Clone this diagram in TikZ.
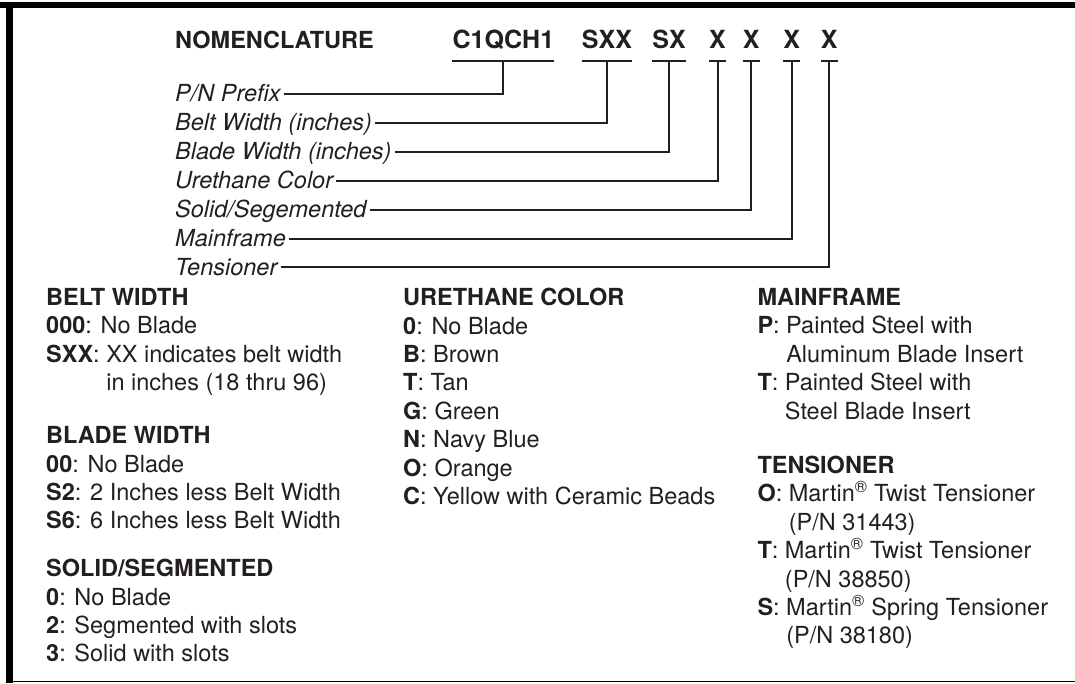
\documentclass[tikz,border=0pt]{standalone}
\usepackage{fontspec}
\setmainfont{TeX Gyre Heros}
\usepackage{tikz}
\usetikzlibrary{positioning}
\definecolor{inkGray}{RGB}{35,31,32}
\newcommand{\regmark}{\textsuperscript{\textregistered}}

\begin{document}
\begin{tikzpicture}[x=1pt, y=-1pt,
		% code letters of the part number
		codePart/.style={
			inner sep=0pt,
			anchor=base,
			font=\fontsize{25}{30}\selectfont\bfseries,
			text=inkGray
		},
		% italic field names on the left
		fieldLabel/.style={
			inner sep=3pt,
			anchor=base west,
			font=\fontsize{23.5}{28}\selectfont\itshape,
			text=inkGray
		},
		% legend columns at the bottom
		legendBlock/.style={
			inner sep=0pt,
			anchor=north west,
			align=left,
			font=\fontsize{23.5}{28.4}\selectfont,
			text=inkGray
		},
		leader/.style={draw=inkGray, line width=2pt}
		]
		
		\useasboundingbox (0,0) rectangle (1075,683);
		
		% frame: heavy top and left, thin bottom
		\fill[black] (0,2) rectangle (1075,8);
		\fill[black] (6,2) rectangle (13,683);
		\draw[black, line width=1.3pt] (6,681.5) -- (1075,681.5);
		
		% title
		\node[inner sep=0pt, anchor=base west, font=\fontsize{23.5}{28}\selectfont\bfseries, text=inkGray] (title) at (175,48.3) {NOMENCLATURE};
		
		% part number pieces
		\node[codePart] (prefixCode) at (503.4,48.3) {C1QCH1};
		\node[codePart] (beltCode) at (607,48.3) {SXX};
		\node[codePart] (bladeCode) at (669,48.3) {SX};
		\node[codePart] (colorCode) at (717.5,48.3) {X};
		\node[codePart] (solidCode) at (751.2,48.3) {X};
		\node[codePart] (frameCode) at (791.7,48.3) {X};
		\node[codePart] (tensCode) at (829.3,48.3) {X};
		
		% underlines below each piece
		\draw[leader] ([yshift=-12.4pt]prefixCode.base west) -- ([yshift=-12.4pt]prefixCode.base east);
		\draw[leader] ([yshift=-12.4pt]beltCode.base west) -- ([yshift=-12.4pt]beltCode.base east);
		\draw[leader] ([yshift=-12.4pt]bladeCode.base west) -- ([yshift=-12.4pt]bladeCode.base east);
		\draw[leader] ([yshift=-12.4pt]colorCode.base west) -- ([yshift=-12.4pt]colorCode.base east);
		\draw[leader] ([yshift=-12.4pt]solidCode.base west) -- ([yshift=-12.4pt]solidCode.base east);
		\draw[leader] ([yshift=-12.4pt]frameCode.base west) -- ([yshift=-12.4pt]frameCode.base east);
		\draw[leader] ([yshift=-12.4pt]tensCode.base west) -- ([yshift=-12.4pt]tensCode.base east);
		
		% field names
		\node[fieldLabel] (prefixLabel) at (172,101.7) {P/N Prefix};
		\node[fieldLabel] (beltLabel) at (172,130.6) {Belt Width (inches)};
		\node[fieldLabel] (bladeLabel) at (172,159.5) {Blade Width (inches)};
		\node[fieldLabel] (colorLabel) at (172,188.4) {Urethane Color};
		\node[fieldLabel] (solidLabel) at (172,217.3) {Solid/Segemented};
		\node[fieldLabel] (frameLabel) at (172,246.2) {Mainframe};
		\node[fieldLabel] (tensLabel) at (172,275.1) {Tensioner};
		
		% leaders from names up to the pieces
		\draw[leader] ([yshift=7.7pt]prefixLabel.base east) -| ([yshift=-12.4pt]prefixCode.base);
		\draw[leader] ([yshift=7.7pt]beltLabel.base east) -| ([yshift=-12.4pt]beltCode.base);
		\draw[leader] ([yshift=7.7pt]bladeLabel.base east) -| ([yshift=-12.4pt]bladeCode.base);
		\draw[leader] ([yshift=7.7pt]colorLabel.base east) -| ([yshift=-12.4pt]colorCode.base);
		\draw[leader] ([yshift=7.7pt]solidLabel.base east) -| ([yshift=-12.4pt]solidCode.base);
		\draw[leader] ([yshift=7.7pt]frameLabel.base east) -| ([yshift=-12.4pt]frameCode.base);
		\draw[leader] ([yshift=7.7pt]tensLabel.base east) -| ([yshift=-12.4pt]tensCode.base);
		
		% first column
		\node[legendBlock] (beltBlock) at (46,288.1) {
			\textbf{BELT WIDTH}\\
			\textbf{000}: No Blade\\
			\textbf{SXX}: XX indicates belt width\\
			\hphantom{\textbf{SXX}: }in inches (18 thru 96)
		};
		\node[legendBlock] (bladeBlock) at (46,426.4) {
			\textbf{BLADE WIDTH}\\
			\textbf{00}: No Blade\\
			\textbf{S2}: 2 Inches less Belt Width\\
			\textbf{S6}: 6 Inches less Belt Width
		};
		\node[legendBlock] (solidBlock) at (46,559.1) {
			\textbf{SOLID/SEGMENTED}\\
			\textbf{0}: No Blade\\
			\textbf{2}: Segmented with slots\\
			\textbf{3}: Solid with slots
		};
		
		% second column
		\node[legendBlock] (colorBlock) at (403,288.1) {
			\textbf{URETHANE COLOR}\\
			\textbf{0}: No Blade\\
			\textbf{B}: Brown\\
			\textbf{T}: Tan\\
			\textbf{G}: Green\\
			\textbf{N}: Navy Blue\\
			\textbf{O}: Orange\\
			\textbf{C}: Yellow with Ceramic Beads
		};
		
		% third column
		\node[legendBlock] (frameBlock) at (757.3,288.1) {
			\textbf{MAINFRAME}\\
			\textbf{P}: Painted Steel with\\
			\hphantom{\textbf{P}: }Aluminum Blade Insert\\
			\textbf{T}: Painted Steel with\\
			\hphantom{\textbf{T}: }Steel Blade Insert
		};
		\node[legendBlock] (tensBlock) at (757.3,455.8) {
			\textbf{TENSIONER}\\
			\textbf{O}: Martin\regmark{} Twist Tensioner\\
			\hphantom{\textbf{O}: }(P/N 31443)\\
			\textbf{T}: Martin\regmark{} Twist Tensioner\\
			\hphantom{\textbf{T}: }(P/N 38850)\\
			\textbf{S}: Martin\regmark{} Spring Tensioner\\
			\hphantom{\textbf{S}: }(P/N 38180)
		};
		
	\end{tikzpicture}
\end{document}
